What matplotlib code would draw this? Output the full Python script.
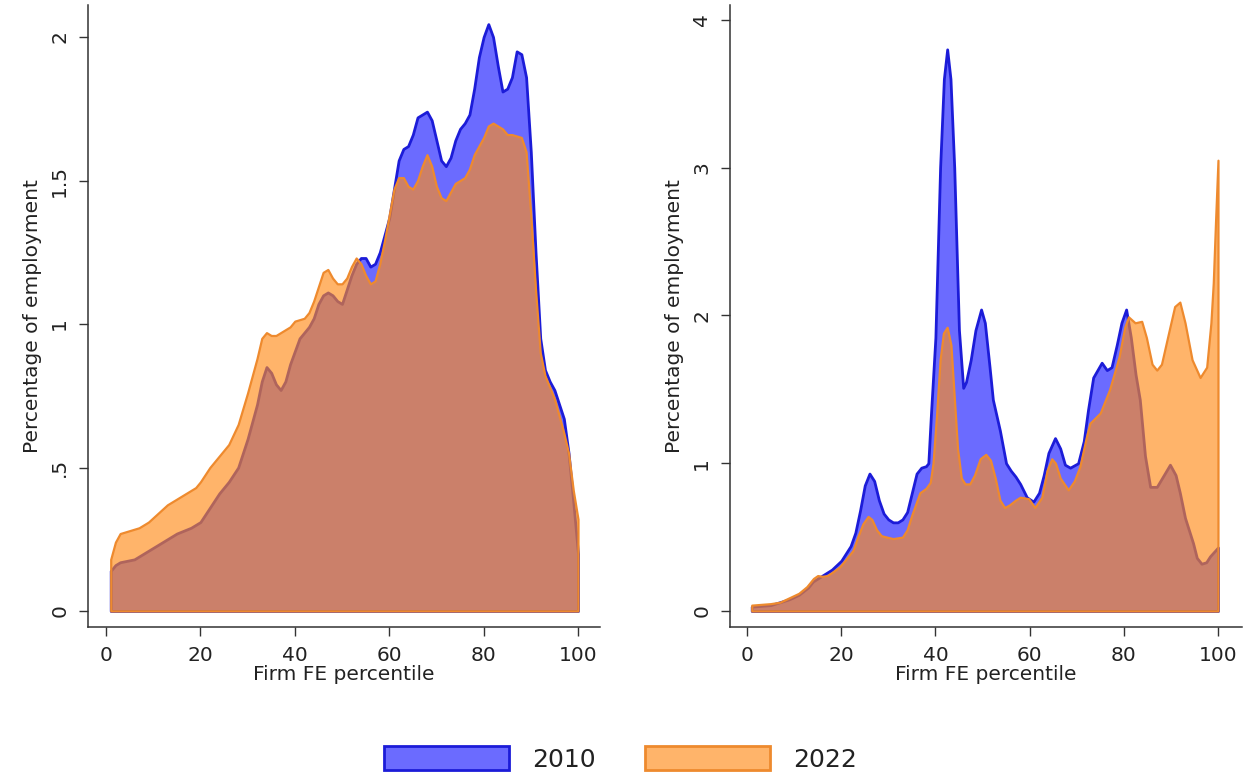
import matplotlib
matplotlib.use("Agg")
import matplotlib.pyplot as plt
from matplotlib.patches import Patch

# ---------------- data ----------------
# Left panel
left_2010_x = [1, 2, 3, 6, 8, 10, 13, 15, 18, 20, 22, 24, 26, 28, 30, 32, 33, 34, 35, 36, 37, 38, 39,
               41, 43, 44, 45, 46, 47, 48, 49, 50, 51, 52, 53, 54, 55, 56, 57, 58, 59, 60, 61, 62, 63,
               64, 65, 66, 67, 68, 69, 70, 71, 72, 73, 74, 75, 76, 77, 78, 79, 80, 81, 82, 83, 84, 85,
               86, 87, 88, 89, 90, 91, 92, 93, 94, 95, 96, 97, 98, 99, 100]
left_2010_y = [0.14, 0.16, 0.17, 0.18, 0.20, 0.22, 0.25, 0.27, 0.29, 0.31, 0.36, 0.41, 0.45, 0.50, 0.60,
               0.72, 0.80, 0.85, 0.83, 0.79, 0.77, 0.80, 0.86, 0.95, 0.99, 1.02, 1.07, 1.10, 1.11, 1.10,
               1.08, 1.07, 1.12, 1.17, 1.21, 1.23, 1.23, 1.20, 1.21, 1.25, 1.31, 1.37, 1.47, 1.57, 1.61,
               1.62, 1.66, 1.72, 1.73, 1.74, 1.71, 1.64, 1.57, 1.55, 1.58, 1.64, 1.68, 1.70, 1.73, 1.82,
               1.93, 2.00, 2.045, 2.00, 1.90, 1.81, 1.82, 1.86, 1.95, 1.94, 1.86, 1.60, 1.25, 0.95, 0.84,
               0.80, 0.77, 0.72, 0.67, 0.55, 0.38, 0.20]

left_2022_x = [1, 2, 3, 5, 7, 9, 11, 13, 15, 17, 19, 20, 22, 24, 26, 28, 30, 32, 33, 34, 35, 36, 37,
               39, 40, 42, 43, 44, 45, 46, 47, 48, 49, 50, 51, 52, 53, 54, 55, 56, 57, 58, 59, 60, 61,
               62, 63, 64, 65, 66, 67, 68, 69, 70, 71, 72, 73, 74, 75, 76, 77, 78, 79, 80, 81, 82, 83,
               84, 85, 86, 87, 88, 89, 90, 91, 92, 93, 94, 95, 96, 97, 98, 99, 100]
left_2022_y = [0.18, 0.24, 0.27, 0.28, 0.29, 0.31, 0.34, 0.37, 0.39, 0.41, 0.43, 0.45, 0.50, 0.54, 0.58,
               0.65, 0.76, 0.88, 0.95, 0.97, 0.96, 0.96, 0.97, 0.99, 1.01, 1.02, 1.04, 1.08, 1.13, 1.18,
               1.19, 1.16, 1.14, 1.14, 1.16, 1.20, 1.23, 1.21, 1.17, 1.14, 1.15, 1.21, 1.29, 1.38, 1.47,
               1.51, 1.51, 1.48, 1.47, 1.50, 1.55, 1.59, 1.55, 1.48, 1.44, 1.43, 1.46, 1.49, 1.50, 1.51,
               1.54, 1.59, 1.62, 1.65, 1.69, 1.70, 1.69, 1.68, 1.66, 1.66, 1.655, 1.65, 1.60, 1.38, 1.12,
               0.90, 0.82, 0.78, 0.74, 0.68, 0.62, 0.55, 0.42, 0.32]

# Right panel
right_2010_x = [1, 3, 5, 7, 9, 11, 13, 14, 16, 18, 20, 22, 23, 24, 25, 26, 27, 28, 29, 30, 31, 32, 33,
                34, 35, 36, 37, 38, 38.5, 39, 40, 41, 41.8, 42.5, 43.2, 44, 45, 45.9, 46.5, 47.5, 48.5,
                49.7, 50.5, 51.5, 52.2, 53.7, 55, 56, 57, 58, 59.4, 60.8, 62, 63, 64, 65.4, 66.5, 67.5,
                68.6, 70.3, 71.5, 72.4, 73.5, 75.3, 76.4, 77.4, 78.5, 79.5, 80.5, 81.5, 82.5, 83.4, 84.5,
                85.6, 87, 88.5, 89.8, 91, 91.9, 93, 94.7, 95.5, 96.5, 97.5, 98.3, 100]
right_2010_y = [0.03, 0.035, 0.04, 0.06, 0.08, 0.11, 0.16, 0.20, 0.24, 0.28, 0.34, 0.44, 0.53, 0.68,
                0.85, 0.93, 0.88, 0.75, 0.66, 0.62, 0.60, 0.60, 0.62, 0.67, 0.80, 0.93, 0.97, 0.98, 1.0,
                1.3, 1.85, 3.0, 3.6, 3.80, 3.6, 3.0, 1.9, 1.51, 1.55, 1.7, 1.9, 2.04, 1.95, 1.65, 1.43,
                1.22, 1.0, 0.95, 0.91, 0.86, 0.77, 0.74, 0.80, 0.92, 1.07, 1.17, 1.10, 0.99, 0.97, 1.0,
                1.15, 1.36, 1.58, 1.68, 1.63, 1.65, 1.80, 1.95, 2.04, 1.85, 1.6, 1.43, 1.05, 0.84, 0.84,
                0.92, 0.99, 0.92, 0.80, 0.63, 0.46, 0.36, 0.32, 0.33, 0.37, 0.43]

right_2022_x = [1, 3, 5, 7, 9, 11, 12.7, 14.1, 15, 16, 17, 18, 19.7, 21, 22.5, 23.5, 24.6, 25.7, 26.5,
                27.5, 28.5, 29.7, 31, 33, 34, 35, 36.7, 38, 38.9, 39.5, 40.3, 41, 41.7, 42.5, 43.3, 44,
                44.7, 45.5, 46.3, 47.3, 48.3, 49.5, 50.7, 51.7, 52.7, 53.7, 54.7, 55.8, 57, 58, 59.8,
                61.1, 62.6, 63.7, 64.7, 65.5, 66.5, 68.2, 69.5, 70.7, 72, 72.8, 75, 77, 79, 80.2, 81,
                82.4, 83.8, 84.8, 86, 87, 88, 89.5, 90.8, 91.9, 93, 94.5, 96.2, 97.6, 98.5, 99, 99.5, 100]
right_2022_y = [0.04, 0.045, 0.05, 0.06, 0.09, 0.12, 0.165, 0.22, 0.24, 0.235, 0.24, 0.26, 0.30, 0.35,
                0.41, 0.50, 0.59, 0.64, 0.62, 0.55, 0.51, 0.50, 0.49, 0.50, 0.55, 0.65, 0.80, 0.83, 0.87,
                1.0, 1.35, 1.7, 1.88, 1.92, 1.80, 1.45, 1.10, 0.90, 0.86, 0.86, 0.92, 1.03, 1.06, 1.02,
                0.90, 0.75, 0.70, 0.72, 0.75, 0.77, 0.76, 0.70, 0.77, 0.95, 1.03, 1.00, 0.90, 0.82, 0.88,
                0.98, 1.17, 1.27, 1.34, 1.50, 1.72, 1.92, 1.99, 1.95, 1.96, 1.85, 1.67, 1.63, 1.67, 1.88,
                2.06, 2.09, 1.95, 1.70, 1.58, 1.65, 1.95, 2.22, 2.65, 3.05]

series_labels = ["2010", "2022"]
x_ticks = [0, 20, 40, 60, 80, 100]
left_yticks = [0, 0.5, 1, 1.5, 2]
left_yticklabels = ["0", ".5", "1", "1.5", "2"]
right_yticks = [0, 1, 2, 3, 4]
right_yticklabels = ["0", "1", "2", "3", "4"]
x_label = "Firm FE percentile"
y_label = "Percentage of employment"

# ---------------- styles ----------------
BLUE_ALPHA = 0.58
BLUE_EDGE = "#1c1cd8"
ORANGE_ALPHA = 0.65
ORANGE_EDGE = "#EE8A2E"
TXT = "#222222"

plt.rcParams["font.family"] = ["DejaVu Sans"]

W, H = 1251, 776
fig = plt.figure(figsize=(W / 100, H / 100), dpi=100)

ax1 = fig.add_axes([88 / W, (H - 627) / H, 512 / W, 622 / H])
ax2 = fig.add_axes([730 / W, (H - 627) / H, 512 / W, 622 / H])


def draw(ax, xb, yb, xo, yo):
    ax.fill_between(xb, 0, yb, facecolor=(0, 0, 1, BLUE_ALPHA), edgecolor=BLUE_EDGE,
                    linewidth=2.0, zorder=2)
    ax.fill_between(xo, 0, yo, facecolor=(1, 140 / 255, 26 / 255, ORANGE_ALPHA),
                    edgecolor=ORANGE_EDGE, linewidth=1.6, zorder=3)
    for s in ("top", "right"):
        ax.spines[s].set_visible(False)
    for s in ("left", "bottom"):
        ax.spines[s].set_linewidth(1.1)
        ax.spines[s].set_color("#333333")
    ax.set_xticks(x_ticks)
    ax.tick_params(axis="both", direction="out", length=6.5, width=1.0, color="#333333",
                   labelsize=14.5, labelcolor=TXT, pad=7)
    ax.tick_params(axis="y", labelrotation=90)
    ax.set_xlabel(x_label, fontsize=14.5, color=TXT, labelpad=0)
    ax.set_ylabel(y_label, fontsize=14.5, color=TXT, labelpad=6)


draw(ax1, left_2010_x, left_2010_y, left_2022_x, left_2022_y)
ax1.set_xlim(-3.81, 104.66)
ax1.set_ylim(-0.0557, 2.1115)
ax1.set_yticks(left_yticks, left_yticklabels, va="center")

draw(ax2, right_2010_x, right_2010_y, right_2022_x, right_2022_y)
ax2.set_xlim(-3.61, 105.1)
ax2.set_ylim(-0.108, 4.10)
ax2.set_yticks(right_yticks, right_yticklabels, va="center")

handles = [
    Patch(facecolor=(0, 0, 1, BLUE_ALPHA), edgecolor=BLUE_EDGE, linewidth=2.0),
    Patch(facecolor=(1, 140 / 255, 26 / 255, ORANGE_ALPHA), edgecolor=ORANGE_EDGE, linewidth=2.0),
]
leg = fig.legend(handles, series_labels, loc="center", bbox_to_anchor=(0.496, 0.022), ncol=2,
                 frameon=False, fontsize=18, handlelength=5.0, handleheight=1.1,
                 handletextpad=0.9, columnspacing=2.0)
for t in leg.get_texts():
    t.set_color(TXT)

fig.savefig("out.png", dpi=100)
